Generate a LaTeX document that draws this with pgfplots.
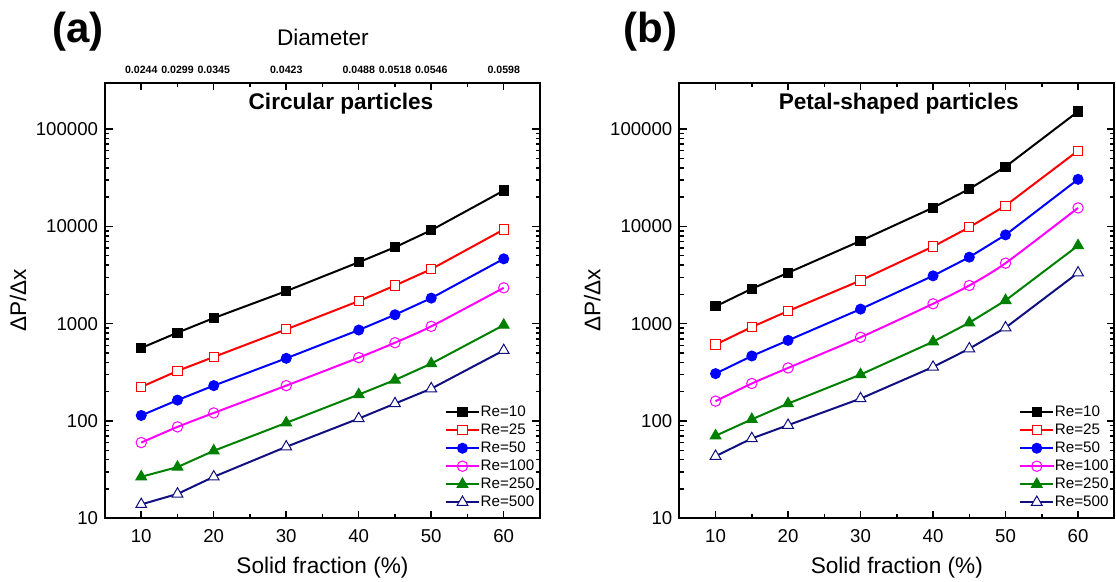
\documentclass[border=0pt]{standalone}
\usepackage{fontspec}
\setmainfont{Liberation Sans}
\usepackage{pgfplots}
\usepackage{pgfplotstable}
\pgfplotsset{compat=1.18}

\definecolor{cRed}{RGB}{255,0,0}
\definecolor{cBlue}{RGB}{0,0,255}
\definecolor{cMag}{RGB}{255,0,255}
\definecolor{cGreen}{RGB}{0,128,0}
\definecolor{cNavy}{RGB}{16,16,128}

\pgfplotstableread{
x Re10 Re25 Re50 Re100 Re250 Re500
10 563 224 114 60 26.7 13.9
15 809 327 164 87 33.6 17.8
20 1143 455 231 121 49.4 26.7
30 2163 875 441 231 95.7 54.3
40 4285 1708 861 448 187 106
45 6110 2470 1236 638 264 151
50 9140 3636 1832 939 389 215
60 23350 9290 4645 2339 968 532
}\dataA

\pgfplotstableread{
x Re10 Re25 Re50 Re100 Re250 Re500
10 1507 610 307 160 70.5 43.5
15 2286 925 466 243 104 66.2
20 3337 1349 674 351 151 90.6
30 7100 2781 1413 725 300 170
40 15590 6209 3105 1603 653 359
45 24260 9795 4828 2470 1024 554
50 41100 16360 8186 4190 1735 910
60 151700 59980 30480 15490 6350 3337
}\dataB

\tikzset{
  s10/.style={black, line width=1bp, mark=square*, mark size=2.3bp, mark options={solid, fill=black, line width=0.5bp}},
  s25/.style={cRed, line width=1bp, mark=square*, mark size=2.3bp, mark options={solid, fill=white, line width=0.5bp}},
  s50/.style={cBlue, line width=1bp, mark=*, mark size=2.5bp, mark options={solid, fill=cBlue, line width=0.5bp}},
  s100/.style={cMag, line width=1bp, smooth, tension=0.4, mark=o, mark size=2.6bp, mark options={solid, line width=0.5bp}},
  s250/.style={cGreen, line width=1bp, mark=triangle*, mark size=3.1bp, mark options={solid, fill=cGreen, line width=0.5bp}},
  s500/.style={cNavy, line width=1bp, mark=triangle*, mark size=3.1bp, mark options={solid, fill=white, line width=0.5bp}},
}

\begin{document}
\begin{tikzpicture}
\begin{axis}[
    scale only axis, width=217.5bp, height=217.8bp,
    xmin=5, xmax=65, ymode=log, ymin=10, ymax=3e5,
    clip=false,
    xtick={10,20,30,40,50,60}, xticklabels={10,20,30,40,50,60},
    minor x tick num=1,
    ytick={10,100,1000,10000,100000}, yticklabels={10,100,1000,10000,100000},
    tick align=inside,
    major tick length=3.8bp, minor tick length=2.2bp,
    axis line style={line width=1bp},
    tick style={line width=0.75bp, black},
    tick label style={font=\fontsize{9.3bp}{11bp}\selectfont},
    xticklabel style={yshift=-1.9bp},
    xlabel={Solid fraction (\%)},
    ylabel={ΔP/Δx},
    x label style={at={(axis description cs:0.5,0)}, yshift=-24.85bp, anchor=center, font=\fontsize{11.3bp}{13bp}\selectfont},
    y label style={at={(axis description cs:-0.2,0.5)}, anchor=center, font=\fontsize{11.3bp}{13bp}\selectfont},
    legend style={draw=none, fill=none, font=\fontsize{7.6bp}{9bp}\selectfont,
      inner sep=0pt, outer sep=0pt, row sep=1.2bp,
      nodes={inner sep=0.3bp, text height=5.6bp, text depth=1.6bp},
      at={(rel axis cs:0.7816,0.019)}, anchor=south west},
    legend cell align=left,
    legend image code/.code={\draw[mark repeat=2, mark phase=2] plot coordinates {(0bp,0bp) (8.25bp,0bp) (16.5bp,0bp)};},
  ]
  \addplot[s10] table[x=x, y=Re10] {\dataA};
  \addplot[s25] table[x=x, y=Re25] {\dataA};
  \addplot[s50] table[x=x, y=Re50] {\dataA};
  \addplot[s100] table[x=x, y=Re100] {\dataA};
  \addplot[s250] table[x=x, y=Re250] {\dataA};
  \addplot[s500] table[x=x, y=Re500] {\dataA};
  \legend{Re=10,Re=25,Re=50,Re=100,Re=250,Re=500}
  \node[font=\bfseries\fontsize{11.3bp}{13bp}\selectfont, anchor=center] at (axis description cs:0.5425,0.951) {Circular particles};
  \node[font=\fontsize{11.3bp}{13bp}\selectfont, anchor=center, yshift=22.85bp] at (axis description cs:0.501,1) {Diameter};
  \node[font=\bfseries\fontsize{21bp}{24bp}\selectfont, anchor=center, xshift=-13.5bp, yshift=25.35bp] at (axis description cs:0,1) {(a)};
  \node[font=\bfseries\fontsize{5.3bp}{6bp}\selectfont, anchor=center, yshift=6.35bp] at (axis cs:10,300000) {0.0244};
  \node[font=\bfseries\fontsize{5.3bp}{6bp}\selectfont, anchor=center, yshift=6.35bp] at (axis cs:15,300000) {0.0299};
  \node[font=\bfseries\fontsize{5.3bp}{6bp}\selectfont, anchor=center, yshift=6.35bp] at (axis cs:20,300000) {0.0345};
  \node[font=\bfseries\fontsize{5.3bp}{6bp}\selectfont, anchor=center, yshift=6.35bp] at (axis cs:30,300000) {0.0423};
  \node[font=\bfseries\fontsize{5.3bp}{6bp}\selectfont, anchor=center, yshift=6.35bp] at (axis cs:40,300000) {0.0488};
  \node[font=\bfseries\fontsize{5.3bp}{6bp}\selectfont, anchor=center, yshift=6.35bp] at (axis cs:45,300000) {0.0518};
  \node[font=\bfseries\fontsize{5.3bp}{6bp}\selectfont, anchor=center, yshift=6.35bp] at (axis cs:50,300000) {0.0546};
  \node[font=\bfseries\fontsize{5.3bp}{6bp}\selectfont, anchor=center, yshift=6.35bp] at (axis cs:60,300000) {0.0598};
\end{axis}
\begin{axis}[
    xshift=287.15bp,
    scale only axis, width=217.5bp, height=217.8bp,
    xmin=5, xmax=65, ymode=log, ymin=10, ymax=3e5,
    clip=false,
    xtick={10,20,30,40,50,60}, xticklabels={10,20,30,40,50,60},
    minor x tick num=1,
    ytick={10,100,1000,10000,100000}, yticklabels={10,100,1000,10000,100000},
    tick align=inside,
    major tick length=3.8bp, minor tick length=2.2bp,
    axis line style={line width=1bp},
    tick style={line width=0.75bp, black},
    tick label style={font=\fontsize{9.3bp}{11bp}\selectfont},
    xticklabel style={yshift=-1.9bp},
    xlabel={Solid fraction (\%)},
    ylabel={ΔP/Δx},
    x label style={at={(axis description cs:0.5,0)}, yshift=-24.85bp, anchor=center, font=\fontsize{11.3bp}{13bp}\selectfont},
    y label style={at={(axis description cs:-0.2,0.5)}, anchor=center, font=\fontsize{11.3bp}{13bp}\selectfont},
    legend style={draw=none, fill=none, font=\fontsize{7.6bp}{9bp}\selectfont,
      inner sep=0pt, outer sep=0pt, row sep=1.2bp,
      nodes={inner sep=0.3bp, text height=5.6bp, text depth=1.6bp},
      at={(rel axis cs:0.7816,0.019)}, anchor=south west},
    legend cell align=left,
    legend image code/.code={\draw[mark repeat=2, mark phase=2] plot coordinates {(0bp,0bp) (8.25bp,0bp) (16.5bp,0bp)};},
  ]
  \addplot[s10] table[x=x, y=Re10] {\dataB};
  \addplot[s25] table[x=x, y=Re25] {\dataB};
  \addplot[s50] table[x=x, y=Re50] {\dataB};
  \addplot[s100] table[x=x, y=Re100] {\dataB};
  \addplot[s250] table[x=x, y=Re250] {\dataB};
  \addplot[s500] table[x=x, y=Re500] {\dataB};
  \legend{Re=10,Re=25,Re=50,Re=100,Re=250,Re=500}
  \node[font=\bfseries\fontsize{11.3bp}{13bp}\selectfont, anchor=center] at (axis description cs:0.5044,0.951) {Petal-shaped particles};
  \node[font=\bfseries\fontsize{21bp}{24bp}\selectfont, anchor=center, xshift=-14.4bp, yshift=25.35bp] at (axis description cs:0,1) {(b)};
\end{axis}
\pgfresetboundingbox
\path[use as bounding box] (-52.5bp,-31.85bp) rectangle (505.5bp,259.15bp);
\end{tikzpicture}
\end{document}
